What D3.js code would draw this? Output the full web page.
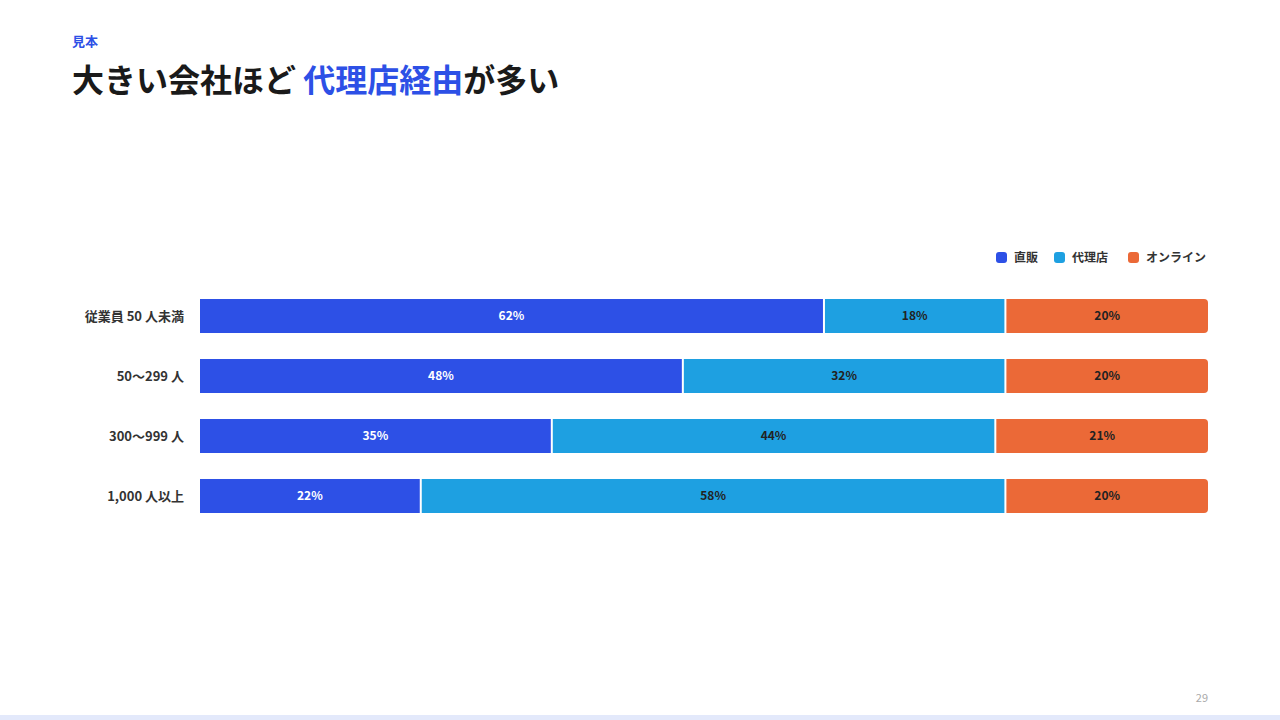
<!DOCTYPE html>
<html><head><meta charset="utf-8">
<script src="https://cdn.jsdelivr.net/npm/d3@7"></script>
<style>body{margin:0;background:#fff;font-family:"Noto Sans CJK JP","Noto Sans",sans-serif;}</style>
</head><body><svg id="c" width="1280" height="720"></svg>
<script>
const categories = ["従業員 50 人未満","50〜299 人","300〜999 人","1,000 人以上"];
const seriesNames = ["直販","代理店","オンライン"];
const direct = [62,48,35,22];
const agency = [18,32,44,58];
const online = [20,20,21,20];
const colors = ["#2d50e6","#1ea0e1","#eb6937"];
const labelColors = ["#ffffff","#222222","#222222"];
const series = [direct, agency, online];

const svg = d3.select("#c");
const F = '"Noto Sans CJK JP","Noto Sans",sans-serif';
svg.append("text").attr("x",72).attr("y",46).attr("fill","#2d50e6").attr("font-size",13).attr("font-weight",700).attr("font-family",F).text("見本");
const t = svg.append("text").attr("x",72).attr("y",92).attr("font-size",32).attr("font-weight",700).attr("font-family",F).attr("fill","#1a1a1a");
t.append("tspan").text("大きい会社ほど ");
t.append("tspan").attr("fill","#2d50e6").text("代理店経由");
t.append("tspan").text("が多い");

const x = d3.scaleLinear().domain([0,100]).range([200,1208]);
const y = d3.scaleBand().domain(categories).range([286,526]).paddingInner(0.4333).paddingOuter(0.2167);

svg.selectAll(".cat").data(categories).join("text")
 .attr("x",184).attr("y",d=>y(d)+y.bandwidth()/2).attr("dy","0.35em").attr("text-anchor","end")
 .attr("font-size",13).attr("font-weight",700).attr("fill","#333").attr("font-family",F).text(d=>d);

categories.forEach((c,i)=>{
  let acc=0;
  series.forEach((s,k)=>{
    const v=s[i], x0=x(acc), x1=x(acc+v); acc+=v;
    const w = x1-x0-(k<2?2:0);
    const yy=y(c), h=y.bandwidth();
    if(k===2){
      const r=4;
      svg.append("path").attr("fill",colors[k]).attr("d",
        `M${x0},${yy}H${x0+w-r}Q${x0+w},${yy} ${x0+w},${yy+r}V${yy+h-r}Q${x0+w},${yy+h} ${x0+w-r},${yy+h}H${x0}Z`);
    } else {
      svg.append("rect").attr("x",x0).attr("y",yy).attr("width",w).attr("height",h).attr("fill",colors[k]);
    }
    svg.append("text").attr("x",x0+w/2).attr("y",yy+h/2).attr("dy","0.35em").attr("text-anchor","middle")
      .attr("font-size",12).attr("font-weight",700).attr("fill",labelColors[k]).attr("font-family",F).text(v+"%");
  });
});

const lx=[996,1054,1128];
seriesNames.forEach((n,k)=>{
  svg.append("rect").attr("x",lx[k]).attr("y",252).attr("width",11).attr("height",11).attr("rx",3).attr("fill",colors[k]);
  svg.append("text").attr("x",lx[k]+18).attr("y",257.5).attr("dy","0.35em").attr("font-size",12).attr("font-weight",700).attr("fill","#333").attr("font-family",F).text(n);
});

svg.append("text").attr("x",1208).attr("y",702).attr("text-anchor","end").attr("font-size",11).attr("fill","#aaa").attr("font-family",F).text("29");
svg.append("rect").attr("x",0).attr("y",715).attr("width",1280).attr("height",5).attr("fill","#e3e9fb");
</script></body></html>
